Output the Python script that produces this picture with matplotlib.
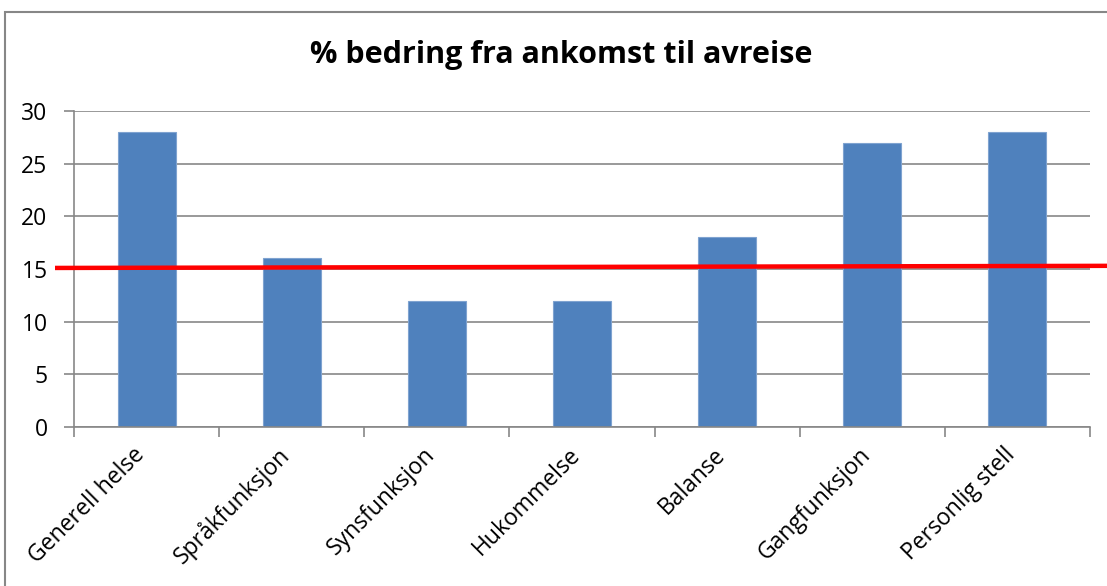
import matplotlib
matplotlib.use("Agg")
import matplotlib.pyplot as plt
import matplotlib.transforms as mtransforms
from matplotlib.patches import Rectangle

categories = ["Generell helse", "Språkfunksjon", "Synsfunksjon", "Hukommelse",
              "Balanse", "Gangfunksjon", "Personlig stell"]
values = [28, 16, 12, 12, 18, 27, 28]
reference_level = [15.1, 15.3]
yticks = [0, 5, 10, 15, 20, 25, 30]
title = "% bedring fra ankomst til avreise"

plt.rcParams['font.family'] = ['Open Sans', 'DejaVu Sans']

W, H = 1107, 586
fig = plt.figure(figsize=(W / 100, H / 100), dpi=100)

# outer chart border
fig.add_artist(Rectangle((4.5 / W, -0.1), 1.2, (H - 11.5) / H + 0.1,
                         transform=fig.transFigure, fill=False,
                         edgecolor="#878787", lw=1.5))

left, right, top, bottom = 74, 1090, 111, 427
ax = fig.add_axes([left / W, 1 - bottom / H, (right - left) / W, (bottom - top) / H])

x = list(range(len(categories)))
ax.bar(x, values, width=0.4, color="#4F81BD", edgecolor="#7FA3D0", linewidth=0.8, zorder=2)

ax.set_xlim(-0.5, len(categories) - 0.5)
ax.set_ylim(0, 30)
ax.set_yticks(yticks)
ax.set_yticklabels([str(v) for v in yticks], fontsize=16.5)
ax.yaxis.grid(True, color="#878787", lw=1.2)
ax.set_axisbelow(True)

ax.set_xticks([i - 0.5 for i in range(len(categories) + 1)])
ax.set_xticklabels([])
ax.tick_params(axis='x', direction='out', length=7, color="#878787", width=1.2)
ax.tick_params(axis='y', direction='out', length=7, color="#878787", width=1.2, pad=12)

for s in ['top', 'right']:
    ax.spines[s].set_visible(False)
for s in ['left', 'bottom']:
    ax.spines[s].set_color("#878787")
    ax.spines[s].set_linewidth(1.2)

# rotated category labels
for i, c in enumerate(categories):
    ax.annotate(c, xy=(i, 0), xycoords=('data', 'axes fraction'),
                xytext=(-14, -16), textcoords='offset pixels',
                rotation=45, ha='right', va='top', rotation_mode='anchor',
                fontsize=16.5)

# reference line
blend = mtransforms.blended_transform_factory(ax.transAxes, ax.transData)
ax.plot([(55 - left) / (right - left), (W - left) / (right - left)], reference_level,
        color="#FF0000", lw=3.2, transform=blend, clip_on=False, zorder=5,
        solid_capstyle='butt')

fig.text(0.507, 1 - 55 / H, title, ha='center', va='center',
         fontsize=22, fontweight='bold')

fig.savefig("out.png", dpi=100)
